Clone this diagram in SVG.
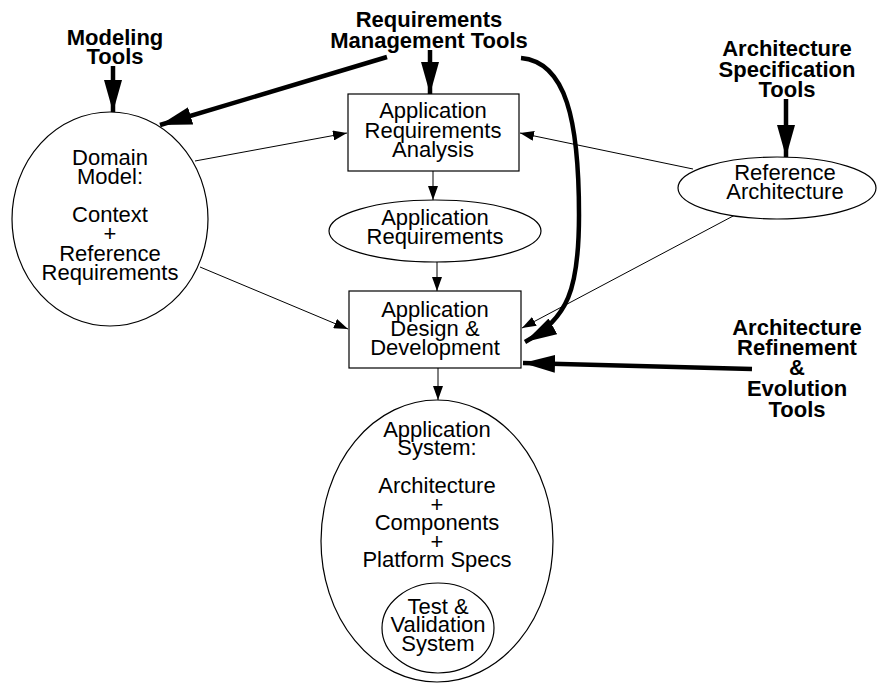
<svg xmlns="http://www.w3.org/2000/svg" width="880" height="685" viewBox="0 0 880 685">
  <style>
    .node { fill: #fff; stroke: #000; stroke-width: 1.2; }
    .lbl { font-family: "Liberation Sans", Arial, sans-serif; font-size: 22px; text-anchor: middle; fill: #000; }
    .tool { font-family: "Liberation Sans", Arial, sans-serif; font-size: 22px; font-weight: bold; text-anchor: middle; fill: #000; }
    .thin { fill: none; stroke: #000; stroke-width: 1; }
    .thick { fill: none; stroke: #000; stroke-width: 4.5; }
  </style>
  <defs>
    <marker id="ah-thin" viewBox="0 0 14 10" refX="14" refY="5" markerWidth="14" markerHeight="10" markerUnits="userSpaceOnUse" orient="auto">
      <path d="M0,0 L14,5 L0,10 Z" fill="#000"/>
    </marker>
    <marker id="ah-thick" viewBox="0 0 32 18" refX="32" refY="9" markerWidth="32" markerHeight="18" markerUnits="userSpaceOnUse" orient="auto">
      <path d="M0,0 L32,9 L0,18 Z" fill="#000"/>
    </marker>
  </defs>

  <rect width="880" height="685" fill="#fff"/>

  <!-- connectors -->
  <g id="connectors">
    <line class="thin" x1="195" y1="161" x2="347" y2="133" marker-end="url(#ah-thin)"/>
    <line class="thin" x1="693" y1="169" x2="520" y2="133" marker-end="url(#ah-thin)"/>
    <line class="thin" x1="433" y1="171" x2="433" y2="200" marker-end="url(#ah-thin)"/>
    <line class="thin" x1="437" y1="262" x2="437" y2="291" marker-end="url(#ah-thin)"/>
    <line class="thin" x1="200" y1="267" x2="348" y2="329" marker-end="url(#ah-thin)"/>
    <line class="thin" x1="735" y1="215" x2="522" y2="328" marker-end="url(#ah-thin)"/>
    <line class="thin" x1="438" y1="368" x2="438" y2="400" marker-end="url(#ah-thin)"/>

    <line class="thick" x1="113" y1="66" x2="113" y2="112" marker-end="url(#ah-thick)"/>
    <line class="thick" x1="430" y1="50" x2="430" y2="94" marker-end="url(#ah-thick)"/>
    <line class="thick" x1="387" y1="57" x2="160" y2="125" marker-end="url(#ah-thick)"/>
    <path class="thick" d="M521,58 C566,62 579,120 579,215 C579,290 568,318 525,342" marker-end="url(#ah-thick)"/>
    <line class="thick" x1="786" y1="99" x2="786" y2="157" marker-end="url(#ah-thick)"/>
    <line class="thick" x1="752" y1="369" x2="523" y2="363" marker-end="url(#ah-thick)"/>
  </g>

  <!-- tool labels -->
  <g id="modeling-tools">
    <text class="tool" x="115" y="45">Modeling</text>
    <text class="tool" x="115" y="64">Tools</text>
  </g>
  <g id="requirements-tools">
    <text class="tool" x="429" y="27">Requirements</text>
    <text class="tool" x="429" y="48">Management Tools</text>
  </g>
  <g id="arch-spec-tools">
    <text class="tool" x="787" y="56">Architecture</text>
    <text class="tool" x="787" y="77">Specification</text>
    <text class="tool" x="787" y="97">Tools</text>
  </g>
  <g id="arch-refinement-tools">
    <text class="tool" x="797" y="335">Architecture</text>
    <text class="tool" x="797" y="355">Refinement</text>
    <text class="tool" x="797" y="375">&amp;</text>
    <text class="tool" x="797" y="396">Evolution</text>
    <text class="tool" x="797" y="417">Tools</text>
  </g>

  <!-- nodes -->
  <g id="domain-model">
    <ellipse class="node" cx="110" cy="219" rx="98" ry="107"/>
    <text class="lbl" x="110" y="165">Domain</text>
    <text class="lbl" x="110" y="184">Model:</text>
    <text class="lbl" x="110" y="222">Context</text>
    <text class="lbl" x="110" y="241">+</text>
    <text class="lbl" x="110" y="261">Reference</text>
    <text class="lbl" x="110" y="280">Requirements</text>
  </g>

  <g id="req-analysis">
    <rect class="node" x="348" y="94" width="171" height="77"/>
    <text class="lbl" x="433" y="118">Application</text>
    <text class="lbl" x="433" y="138">Requirements</text>
    <text class="lbl" x="433" y="157">Analysis</text>
  </g>

  <g id="app-requirements">
    <ellipse class="node" cx="435" cy="231" rx="106" ry="31"/>
    <text class="lbl" x="435" y="225">Application</text>
    <text class="lbl" x="435" y="244">Requirements</text>
  </g>

  <g id="reference-architecture">
    <ellipse class="node" cx="777" cy="188" rx="99" ry="31"/>
    <text class="lbl" x="785" y="180">Reference</text>
    <text class="lbl" x="785" y="199">Architecture</text>
  </g>

  <g id="design-development">
    <rect class="node" x="349" y="291" width="172" height="77"/>
    <text class="lbl" x="435" y="317">Application</text>
    <text class="lbl" x="435" y="336">Design &amp;</text>
    <text class="lbl" x="435" y="355">Development</text>
  </g>

  <g id="application-system">
    <ellipse class="node" cx="437" cy="541" rx="116" ry="141"/>
    <text class="lbl" x="437" y="437">Application</text>
    <text class="lbl" x="437" y="455">System:</text>
    <text class="lbl" x="437" y="493">Architecture</text>
    <text class="lbl" x="437" y="512">+</text>
    <text class="lbl" x="437" y="530">Components</text>
    <text class="lbl" x="437" y="549">+</text>
    <text class="lbl" x="437" y="567">Platform Specs</text>
    <g id="test-validation">
      <ellipse class="node" cx="438" cy="628" rx="56" ry="45"/>
      <text class="lbl" x="438" y="614">Test &amp;</text>
      <text class="lbl" x="438" y="632">Validation</text>
      <text class="lbl" x="438" y="651">System</text>
    </g>
  </g>
</svg>
